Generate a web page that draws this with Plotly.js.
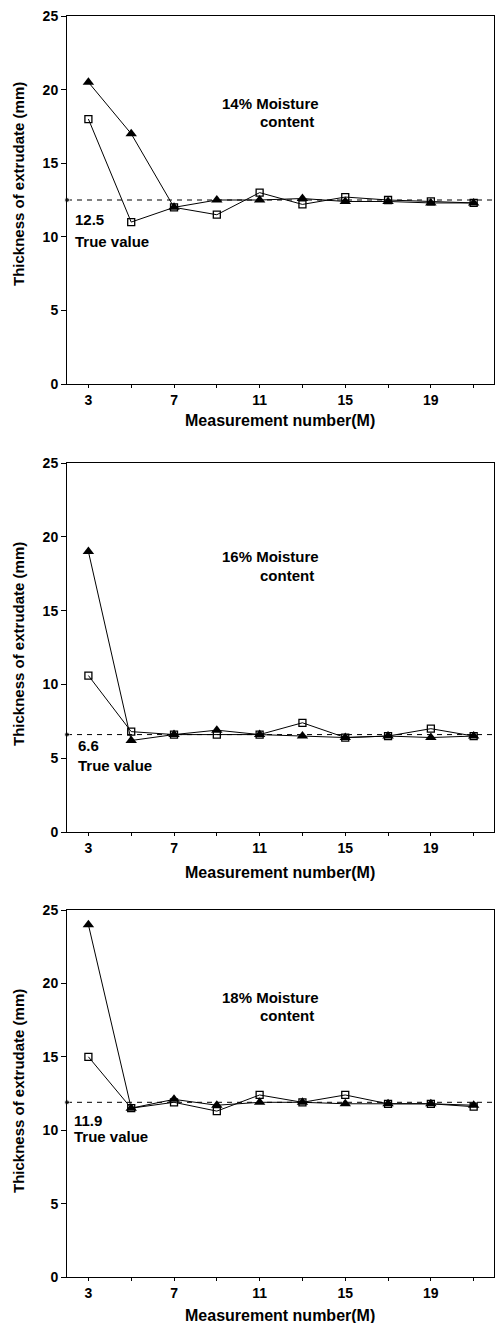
<!DOCTYPE html>
<html>
<head>
<meta charset="utf-8">
<script src="https://cdn.plot.ly/plotly-3.0.1.min.js"></script>
<style>html,body{margin:0;padding:0;background:#fff;}#chart{width:495px;height:1323px;}</style>
</head>
<body>
<div id="chart"></div>
<script>
// ---- data ----
var measurement = [3, 5, 7, 9, 11, 13, 15, 17, 19, 21];
var moisture14_triangle = [20.5, 17.0, 12.0, 12.5, 12.5, 12.6, 12.4, 12.4, 12.3, 12.3];
var moisture14_square   = [18.0, 11.0, 12.0, 11.5, 13.0, 12.2, 12.7, 12.5, 12.4, 12.3];
var moisture16_triangle = [19.0, 6.2, 6.6, 6.9, 6.6, 6.5, 6.4, 6.5, 6.4, 6.5];
var moisture16_square   = [10.6, 6.8, 6.6, 6.6, 6.6, 7.4, 6.4, 6.5, 7.0, 6.5];
var moisture18_triangle = [24.0, 11.5, 12.1, 11.7, 11.9, 11.9, 11.8, 11.8, 11.8, 11.7];
var moisture18_square   = [15.0, 11.5, 11.9, 11.3, 12.4, 11.9, 12.4, 11.8, 11.8, 11.6];
var trueValues = [12.5, 6.6, 11.9];
var trueLabels = ["12.5", "6.6", "11.9"];
var panelTitles = ["14% Moisture", "16% Moisture", "18% Moisture"];
var xTickVals = [3, 5, 7, 9, 11, 13, 15, 17, 19, 21];
var xTickText = ["3", "", "7", "", "11", "", "15", "", "19", ""];
var yTickVals = [0, 5, 10, 15, 20, 25];
var xRange = [2, 21.95];

// ---- layout geometry (pixels) ----
var W = 495, H = 1323;
var FONT = "Liberation Sans, Arial, Helvetica, sans-serif";
var plotLeft = 67, plotRight = 494;
var panels = [
  {top: 16, bottom: 384, yt: 184, xt: 421, tv1: 220, tv2: 241.5, tvx: 73, c1: 104, c2: 122, tri: moisture14_triangle, sq: moisture14_square},
  {top: 463, bottom: 832, yt: 644, xt: 873, tv1: 745, tv2: 765, tvx: 76, c1: 556, c2: 575, tri: moisture16_triangle, sq: moisture16_square},
  {top: 910, bottom: 1277, yt: 1091, xt: 1315, tv1: 1120, tv2: 1136, tvx: 72, c1: 997, c2: 1015, tri: moisture18_triangle, sq: moisture18_square}
];
function px(x){ return x / W; }
function py(y){ return 1 - y / H; }

var data = [];
var layout = {
  width: W, height: H,
  margin: {l: 0, r: 0, t: 0, b: 0},
  paper_bgcolor: "#fff", plot_bgcolor: "#fff",
  showlegend: false,
  font: {family: FONT, color: "#000"},
  annotations: []
};

panels.forEach(function(p, i){
  var n = i + 1;
  var xa = "x" + (n === 1 ? "" : n), ya = "y" + (n === 1 ? "" : n);
  var tf = {family: FONT, size: 14, color: "#000", weight: "bold"};
  layout["xaxis" + (n === 1 ? "" : n)] = {
    domain: [px(plotLeft), px(plotRight)], anchor: ya, range: xRange,
    tickvals: xTickVals, ticktext: xTickText, ticks: "outside", ticklen: 3, tickwidth: 1,
    tickcolor: "#000", showline: true, linecolor: "#000", linewidth: 1, mirror: true,
    showgrid: false, zeroline: false, tickfont: tf, fixedrange: true
  };
  layout["yaxis" + (n === 1 ? "" : n)] = {
    domain: [py(p.bottom), py(p.top)], anchor: xa, range: [0, 25],
    tickvals: yTickVals, ticks: "outside", ticklen: 5, tickwidth: 1,
    tickcolor: "#000", showline: true, linecolor: "#000", linewidth: 1, mirror: true,
    showgrid: false, zeroline: false, tickfont: tf, fixedrange: true
  };
  // true value dashed line
  data.push({
    x: [xRange[0], xRange[1]], y: [trueValues[i], trueValues[i]], xaxis: xa, yaxis: ya,
    mode: "lines+markers", line: {color: "#000", width: 1, dash: "5px,5px"},
    marker: {size: [5, 0], color: "#000"}, cliponaxis: false, hoverinfo: "skip"
  });
  // filled triangles
  data.push({
    x: measurement, y: p.tri, xaxis: xa, yaxis: ya, mode: "lines+markers",
    line: {color: "#000", width: 1},
    marker: {symbol: "triangle-up", size: 10, color: "#000"}
  });
  // open squares
  data.push({
    x: measurement, y: p.sq, xaxis: xa, yaxis: ya, mode: "lines+markers",
    line: {color: "#000", width: 1},
    marker: {symbol: "square-open", size: 7, color: "#000", line: {width: 1.3, color: "#000"}}
  });

  var af = {family: FONT, size: 15, color: "#000", weight: "bold"};
  layout.annotations.push(
    {xref: "paper", yref: "paper", x: px(18), y: py(p.yt), text: "Thickness of extrudate (mm)", textangle: -90,
     showarrow: false, xanchor: "center", yanchor: "middle", font: af},
    {xref: "paper", yref: "paper", x: px(280), y: py(p.xt), text: "Measurement number(M)",
     showarrow: false, xanchor: "center", yanchor: "middle", font: {family: FONT, size: 16, color: "#000", weight: "bold"}},
    {xref: "paper", yref: "paper", x: px(p.tvx), y: py(p.tv1), text: trueLabels[i],
     showarrow: false, xanchor: "left", yanchor: "middle", font: af},
    {xref: "paper", yref: "paper", x: px(p.tvx), y: py(p.tv2), text: "True value",
     showarrow: false, xanchor: "left", yanchor: "middle", font: af},
    {xref: "paper", yref: "paper", x: px(220), y: py(p.c1), text: panelTitles[i],
     showarrow: false, xanchor: "left", yanchor: "middle", font: af},
    {xref: "paper", yref: "paper", x: px(258), y: py(p.c2), text: "content",
     showarrow: false, xanchor: "left", yanchor: "middle", font: af}
  );
});

Plotly.newPlot("chart", data, layout, {displayModeBar: false, staticPlot: true});
</script>
</body>
</html>
